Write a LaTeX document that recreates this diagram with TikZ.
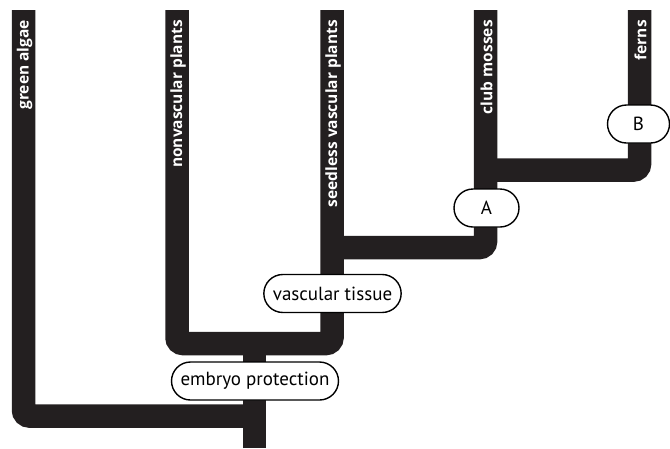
\documentclass[tikz,border=0pt]{standalone}
\usepackage{fontspec}
\setmainfont{PT Sans}
\newfontfamily\taxonfont{Open Sans}
\definecolor{branch}{HTML}{231F20}
\begin{document}
\begin{tikzpicture}[x=1pt, y=-1pt,
    branchline/.style={line width=23.5pt, color=branch, rounded corners=6pt},
    taxon/.style={text=white, font=\taxonfont\bfseries\fontsize{15.5}{15.5}\selectfont, rotate=90, anchor=east, inner sep=0pt},
    trait/.style={draw=black, line width=1.4pt, fill=white, rounded corners=19pt, minimum height=38pt, inner xsep=9pt, font=\fontsize{19}{19}\selectfont}]
    \useasboundingbox (0,0) rectangle (670,448);

    % tips and forks of the tree
    \coordinate (algae) at (23.5,10);
    \coordinate (moss) at (177,10);
    \coordinate (seedless) at (332,10);
    \coordinate (club) at (485.5,10);
    \coordinate (fern) at (639.5,10);
    \coordinate (root) at (254.5,448);
    \coordinate (fork1) at (254.5,416);
    \coordinate (fork2) at (254.5,343.5);
    \coordinate (fork3) at (332,247.5);
    \coordinate (fork4) at (485.5,170);

    \draw[branchline] (algae) |- (fork1);
    \draw[branchline] (root) -- (fork2);
    \draw[branchline] (moss) |- (fork2) -| (seedless);
    \draw[branchline] (fork3) -| (club);
    \draw[branchline] (fork4) -| (fern);

    \node[trait] (embryo) at (255,381) {embryo protection};
    \node[trait] (vascular) at (332.5,293.5) {vascular tissue};
    \node[trait, minimum width=65pt] (traitA) at (486.5,208) {A};
    \node[trait, minimum width=62pt] (traitB) at (638.5,124) {B};

    \node[taxon] (algaeLabel) at (24.5,20) {green algae};
    \node[taxon] (mossLabel) at (178,20) {nonvascular plants};
    \node[taxon] (seedlessLabel) at (333,20) {seedless vascular plants};
    \node[taxon] (clubLabel) at (486.5,20) {club mosses};
    \node[taxon] (fernLabel) at (640.5,20) {ferns};
\end{tikzpicture}
\end{document}
